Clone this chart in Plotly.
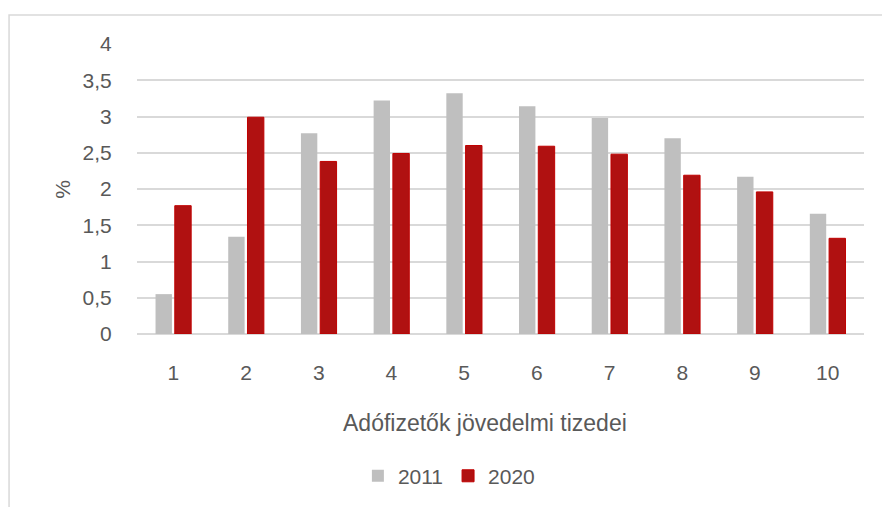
import plotly.graph_objects as go

categories = ["1", "2", "3", "4", "5", "6", "7", "8", "9", "10"]
values_2011 = [0.55, 1.34, 2.77, 3.22, 3.32, 3.14, 2.98, 2.70, 2.17, 1.66]
values_2020 = [1.77, 2.99, 2.38, 2.49, 2.60, 2.59, 2.48, 2.19, 1.96, 1.32]
y_ticks = [0, 0.5, 1, 1.5, 2, 2.5, 3, 3.5, 4]
y_tick_labels = ["0", "0,5", "1", "1,5", "2", "2,5", "3", "3,5", "4"]

FONT = "Liberation Sans, Arial, sans-serif"
TXT = "#595959"

fig = go.Figure()
fig.add_trace(go.Bar(x=categories, y=values_2011, name="2011",
                     marker=dict(color="#BFBFBF", line=dict(width=0))))
fig.add_trace(go.Bar(x=categories, y=values_2020, name="2020",
                     marker=dict(color="#B01111", line=dict(color="#C00000", width=1))))

fig.update_layout(
    width=882, height=507,
    margin=dict(l=137, r=18, t=44, b=172),
    paper_bgcolor="white", plot_bgcolor="white",
    barmode="group", bargap=0.47, bargroupgap=0.15,
    font=dict(family=FONT, color=TXT, size=21),
    showlegend=True,
    legend=dict(orientation="h", x=0.429, xanchor="center", y=-0.485, yanchor="middle",
                font=dict(size=21, color=TXT), itemwidth=30, tracegroupgap=0,
                bgcolor="rgba(0,0,0,0)"),
    xaxis=dict(showgrid=False, showline=False, zeroline=False,
               ticks="outside", ticklen=20, tickcolor="rgba(0,0,0,0)",
               tickfont=dict(size=21, color=TXT, family=FONT)),
    yaxis=dict(range=[0, 4], tickvals=y_ticks, ticktext=y_tick_labels,
               showgrid=True, gridcolor="#D9D9D9", gridwidth=1.5,
               zeroline=True, zerolinecolor="#D9D9D9", zerolinewidth=1.5,
               showline=False, ticks="outside", ticklen=20, tickcolor="rgba(0,0,0,0)",
               tickfont=dict(size=21, color=TXT, family=FONT)),
    annotations=[
        dict(text="Adófizetők jövedelmi tizedei", xref="paper", yref="paper",
             x=0.479, y=-0.306, xanchor="center", yanchor="middle", showarrow=False,
             font=dict(size=23, color=TXT, family=FONT)),
        dict(text="%", xref="paper", yref="paper", x=-0.103, y=0.498,
             xanchor="center", yanchor="middle", textangle=-90, showarrow=False,
             font=dict(size=21, color=TXT, family=FONT)),
    ],
    shapes=[
        dict(type="rect", xref="paper", yref="paper", x0=-0.176, x1=1.05, y0=-0.7, y1=1.0997,
             line=dict(color="#D9D9D9", width=1.5), fillcolor="rgba(0,0,0,0)", layer="below"),
    ],
)

fig.write_html("out.html", config={"displayModeBar": False},
               post_script="document.body.style.margin='0';document.body.style.overflow='hidden';")
